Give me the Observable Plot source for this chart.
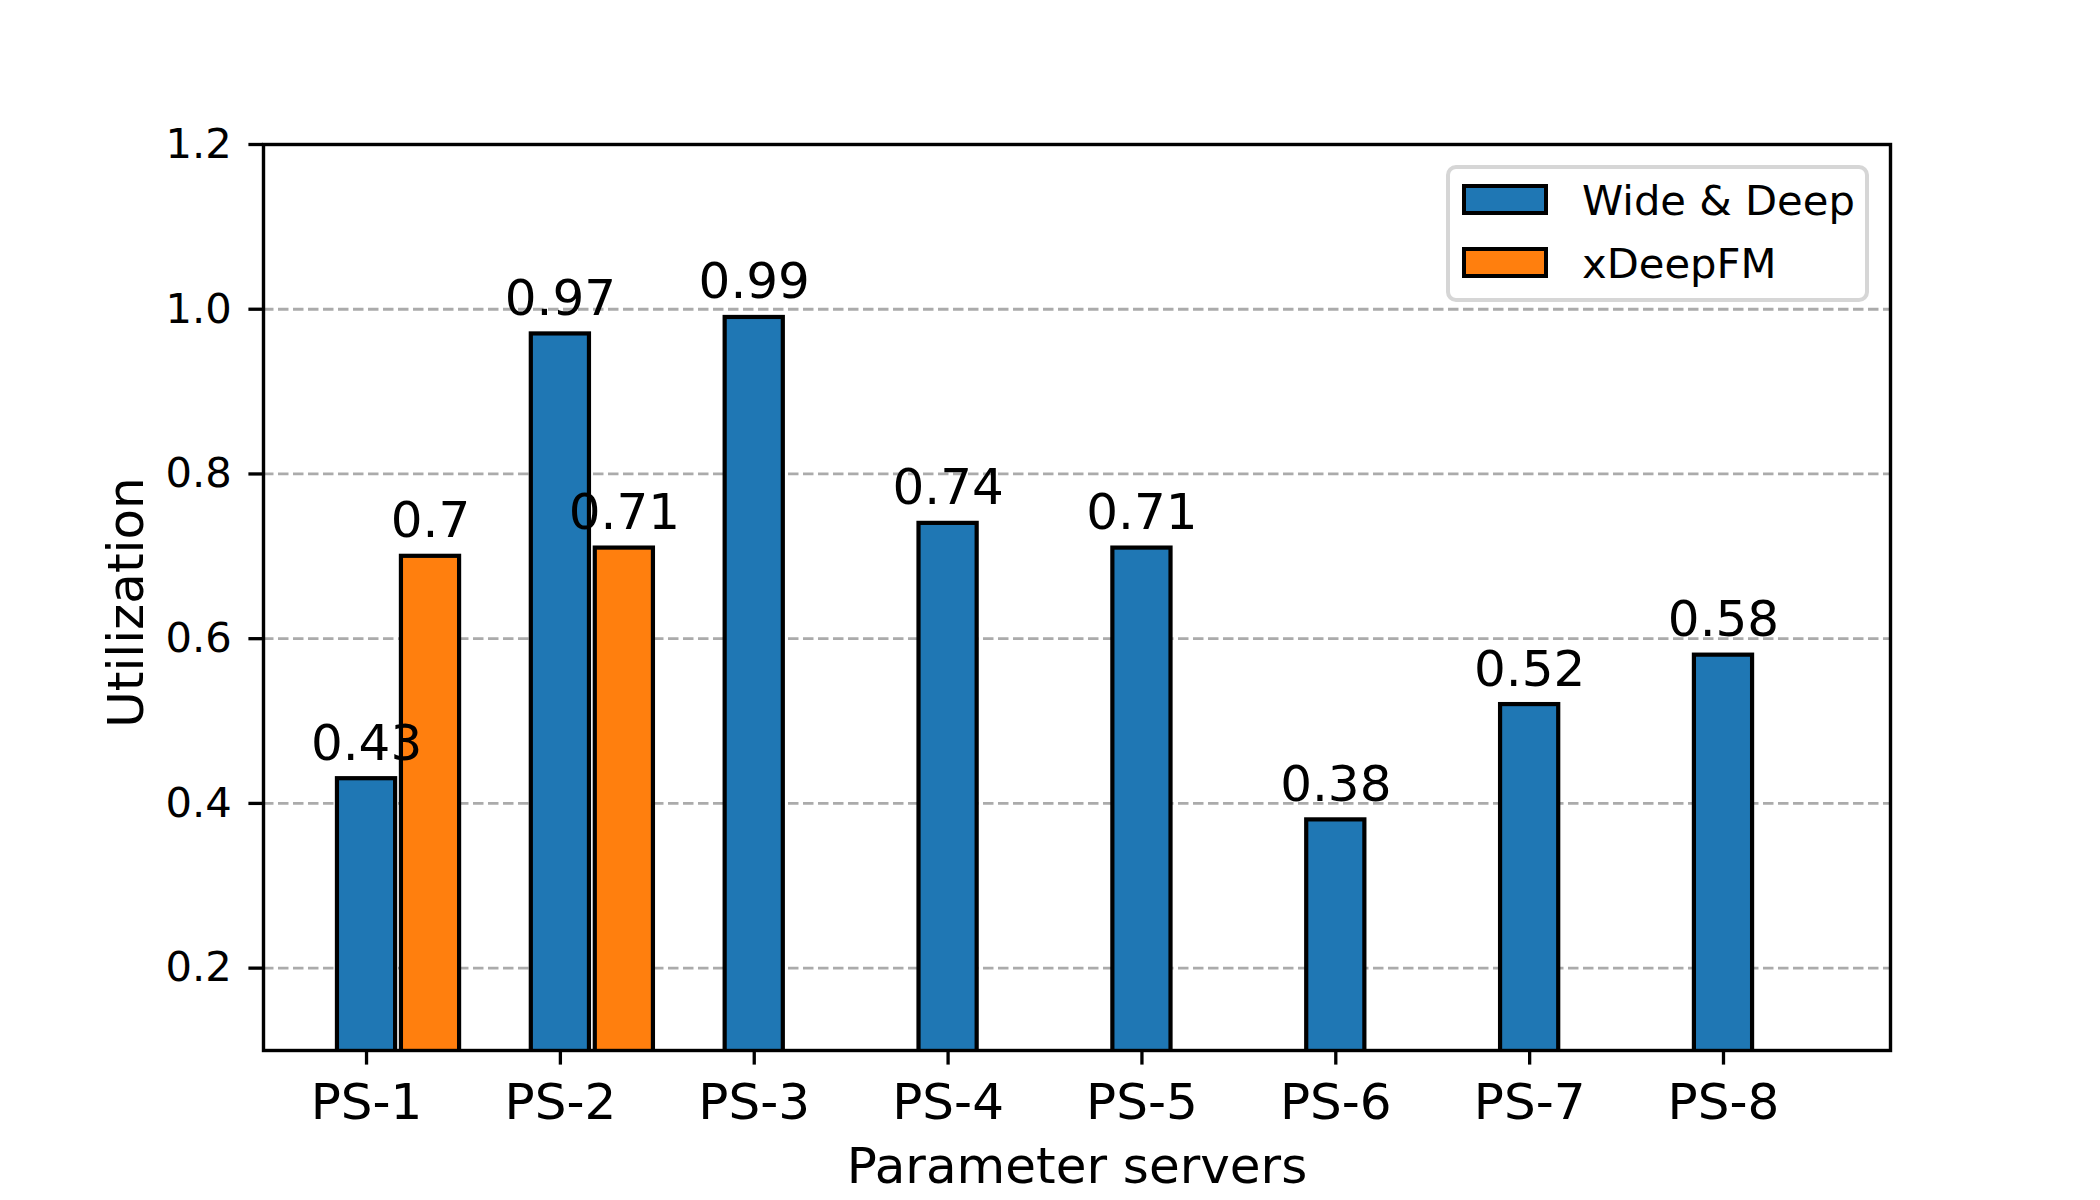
<!DOCTYPE html>
<html>
<head>
<meta charset="utf-8">
<script src="https://cdn.jsdelivr.net/npm/d3@7"></script>
<script src="https://cdn.jsdelivr.net/npm/@observablehq/plot@0.6"></script>
<style>
  html, body { margin: 0; padding: 0; background: #fff; }
  #wrap { position: relative; width: 2100px; height: 1200px; }
  .legend { position: absolute; left: 1446px; top: 165px; width: 423px; height: 137px; box-sizing: border-box;
            border: 4px solid #d6d6d6; border-radius: 10px; background: rgba(255,255,255,0.8);
            font-family: "DejaVu Sans"; font-size: 41.7px; color: #000; }
  .legend .sw { position: absolute; left: 12px; width: 86px; height: 31px; box-sizing: border-box; border: 4px solid #000; }
  .legend .lb { position: absolute; left: 132px; line-height: 1; white-space: nowrap; }
</style>
</head>
<body>
<div id="wrap"></div>
<script>
// ---- data ----
const categories = ["PS-1", "PS-2", "PS-3", "PS-4", "PS-5", "PS-6", "PS-7", "PS-8"];
const wideDeep   = [0.43, 0.97, 0.99, 0.74, 0.71, 0.38, 0.52, 0.58];
const xDeepFM    = [0.70, 0.71, 0, 0, 0, 0, 0, 0];
const seriesNames  = ["Wide & Deep", "xDeepFM"];
const seriesColors = ["#1f77b4", "#ff7f0e"];
const yTicks = [0.2, 0.4, 0.6, 0.8, 1.0, 1.2];

// ---- layout constants ----
const barWidth = 0.3;
const barOffset = 0.33;

const seriesValues = [wideDeep, xDeepFM];
const rows = [];
seriesValues.forEach((vals, s) => {
  vals.forEach((v, i) => rows.push({cat: categories[i], i, s, series: seriesNames[s], value: v}));
});
const center = d => d.i + d.s * barOffset;

// matplotlib-like x limits: data extent plus 5% margins
const lo = -barWidth / 2;
const hi = (categories.length - 1) + barOffset + barWidth / 2;
const pad = 0.05 * (hi - lo);

const chart = Plot.plot({
  width: 2100,
  height: 1200,
  marginLeft: 263,
  marginRight: 210,
  marginTop: 144,
  marginBottom: 150,
  style: {fontFamily: "DejaVu Sans", color: "#000", background: "#fff"},
  x: {type: "linear", domain: [lo - pad, hi + pad], label: null},
  y: {domain: [0.1, 1.2], label: null},
  marks: [
    Plot.ruleY(yTicks, {stroke: "#ababab", strokeWidth: 2.8, strokeDasharray: "10.5,4.5"}),
    Plot.rectY(rows, {
      x1: d => center(d) - barWidth / 2,
      x2: d => center(d) + barWidth / 2,
      y1: 0,
      y2: "value",
      fill: d => seriesColors[d.s],
      stroke: "#000",
      strokeWidth: 4.2,
      clip: true
    }),
    Plot.frame({stroke: "#000", strokeWidth: 3.4}),
    Plot.axisX({ticks: d3.range(categories.length), tickFormat: i => categories[i], tickSize: 14.6, tickPadding: 18, fontSize: 50, strokeWidth: 3.3, label: null}),
    Plot.axisY({ticks: yTicks, tickFormat: d3.format(".1f"), tickSize: 14.6, tickPadding: 17, fontSize: 41.7, strokeWidth: 3.3, label: null}),
    Plot.text(rows.filter(d => d.value > 0), {
      x: center, y: "value", text: d => String(d.value),
      dy: -19, lineAnchor: "bottom", textAnchor: "middle", fontSize: 50, fill: "#000"
    }),
    Plot.text(["Parameter servers"], {frameAnchor: "bottom", dy: 132, lineAnchor: "bottom", textAnchor: "middle", fontSize: 50, fill: "#000"}),
    Plot.text(["Utilization"], {frameAnchor: "left", dx: -121, dy: 5, rotate: -90, lineAnchor: "bottom", textAnchor: "middle", fontSize: 50, fill: "#000"})
  ]
});

const wrap = document.getElementById("wrap");
wrap.appendChild(chart);

// legend (HTML overlay inside the axes, upper right)
const legend = document.createElement("div");
legend.className = "legend";
seriesNames.forEach((name, s) => {
  const sw = document.createElement("div");
  sw.className = "sw";
  sw.style.top = (15 + s * 63) + "px";
  sw.style.background = seriesColors[s];
  legend.appendChild(sw);
  const lb = document.createElement("div");
  lb.className = "lb";
  lb.style.top = (11 + s * 63) + "px";
  lb.textContent = name;
  legend.appendChild(lb);
});
wrap.appendChild(legend);
</script>
</body>
</html>
